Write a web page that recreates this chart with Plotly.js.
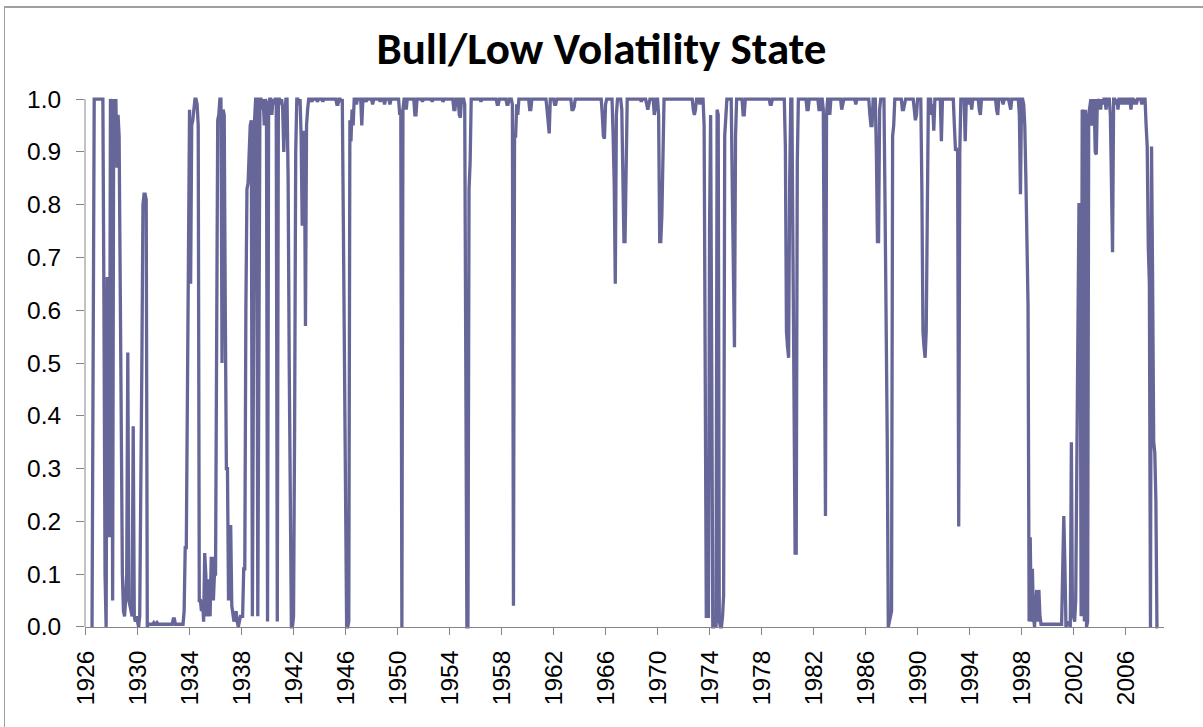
<!DOCTYPE html>
<html>
<head>
<meta charset="utf-8">
<script src="https://cdn.plot.ly/plotly-3.0.1.min.js"></script>
<style>
  html, body { margin: 0; padding: 0; background: #ffffff; overflow: hidden; }
  #wrap { position: relative; width: 1203px; height: 727px; }
  #chart { position: absolute; left: 0; top: 0; width: 1203px; height: 727px; }
  #frame { position: absolute; left: 4px; top: 6px; width: 1210px; height: 740px;
           border-left: 1px solid #a0a0a0; border-top: 2px solid #a0a0a0; pointer-events: none; }
</style>
</head>
<body>
<div id="wrap">
  <div id="chart"></div>
  <div id="frame"></div>
</div>
<script>
// Tick labels (one every 4 years, monthly categories starting Jan 1926)
const yearLabels = ['1926','1930','1934','1938','1942','1946','1950','1954','1958','1962',
                    '1966','1970','1974','1978','1982','1986','1990','1994','1998','2002','2006'];
const yLabels = ['0.0','0.1','0.2','0.3','0.4','0.5','0.6','0.7','0.8','0.9','1.0'];

// Monthly probability of the bull / low-volatility state
const prob1926to1935 = [
  null,null,null,null,null,null, 0, 0.38, 1, 1, 1, 1,
  1, 1, 1, 1, 1, 0.6, 0.1, 0, 0.66, 0.66, 0.17, 1,
  0.99, 0.05, 1, 0.98, 1, 0.87, 0.97, 0.93, 0.6, 0.3, 0.1, 0.03,
  0.02, 0.05, 0.1, 0.52, 0.05, 0.04, 0.03, 0.02, 0.38, 0.02, 0.01, 0.02,
  0.01, 0, 0.02, 0.38, 0.5, 0.8, 0.82, 0.82, 0.81, 0, 0.005, 0.005,
  0.005, 0.005, 0.005, 0.008, 0.005, 0.005, 0.008, 0.005, 0.005, 0.005, 0.005, 0.005,
  0.005, 0.005, 0.005, 0.005, 0.005, 0.005, 0.005, 0.005, 0.005, 0.015, 0.015, 0.005,
  0.005, 0.005, 0.005, 0.005, 0.005, 0.005, 0.005, 0.03, 0.15, 0.15, 0.5, 0.88,
  0.98, 0.65, 0.95, 0.96, 0.99, 1, 1, 0.99, 0.95, 0.05, 0.05, 0.03,
  0.05, 0.01, 0.14, 0.1, 0.02, 0.08, 0.09, 0.02, 0.13, 0.13, 0.05, 0.1
];
const prob1936to1945 = [
  0.1, 0.5, 0.96, 0.97, 1, 1, 0.5, 0.98, 0.97, 0.6, 0.3, 0.3,
  0.05, 0.19, 0.19, 0.04, 0.02, 0.01, 0.02, 0.03, 0.01, 0, 0.01, 0.02,
  0.02, 0.02, 0.11, 0.11, 0.6, 0.83, 0.84, 0.9, 0.95, 0.96, 0.02, 0.5,
  0.96, 1, 1, 0.02, 0.5, 1, 1, 0.98, 1, 0.95, 1, 0.99,
  0.01, 0.99, 1, 1, 0.97, 1, 0.99, 1, 1, 0.01, 1, 1,
  0.99, 1, 0.98, 0.9, 0.97, 1, 1, 0.85, 0.5, 0.2, 0, 0,
  0.02, 0.38, 0.9, 1, 1, 0.99, 1, 0.93, 0.76, 0.94, 0.93, 0.57,
  0.95, 0.98, 1, 1, 1, 0.995, 1, 1, 1, 1, 0.995, 1,
  1, 1, 1, 0.995, 1, 1, 1, 1, 1, 1, 1, 1,
  1, 1, 1, 1, 0.99, 0.99, 1, 1, 0.995, 1, 0.76, 0.51
];
const prob1946to1955 = [
  0.2, 0, 0, 0.01, 0.96, 0.92, 0.98, 0.95, 1, 1, 0.99, 1,
  1, 1, 1, 0.95, 1, 1, 1, 0.995, 1, 1, 1, 1,
  1, 0.99, 1, 1, 1, 1, 1, 1, 0.995, 1, 1, 1,
  0.99, 1, 1, 1, 1, 0.99, 1, 1, 1, 1, 1, 1,
  1, 1, 0.97, 0.98, 0, 0.98, 1, 1, 0.98, 1, 1, 1,
  1, 1, 1, 1, 0.97, 0.97, 1, 1, 1, 1, 1, 0.995,
  1, 1, 1, 1, 1, 1, 1, 1, 0.995, 1, 1, 1,
  1, 1, 1, 1, 1, 1, 0.995, 1, 1, 1, 1, 1,
  1, 1, 1, 1, 0.98, 0.98, 1, 1, 1, 0.97, 0.965, 1,
  1, 1, 0.99, 0.6, 0, 0, 0.83, 0.88, 1, 1, 1, 1
];
const prob1956to1965 = [
  1, 1, 1, 1, 1, 0.995, 1, 1, 1, 1, 1, 1,
  1, 1, 1, 1, 1, 1, 1, 1, 0.99, 0.99, 1, 1,
  1, 1, 1, 1, 1, 0.99, 0.99, 1, 1, 1, 0.99, 0.04,
  0.93, 0.93, 0.99, 0.97, 1, 1, 1, 1, 1, 1, 1, 1,
  1, 1, 0.98, 0.98, 1, 1, 1, 1, 1, 1, 1, 1,
  1, 1, 1, 1, 1, 1, 0.98, 0.95, 0.935, 1, 1, 1,
  1, 0.99, 0.99, 1, 1, 1, 1, 1, 1, 1, 1, 1,
  1, 1, 1, 1, 1, 0.98, 0.98, 0.985, 1, 1, 1, 1,
  1, 1, 1, 1, 1, 1, 1, 1, 1, 1, 1, 1,
  1, 1, 1, 1, 1, 1, 1, 1, 1, 0.97, 0.93, 0.925
];
const prob1966to1975 = [
  0.99, 1, 1, 1, 1, 1, 1, 0.93, 0.84, 0.65, 0.97, 1,
  1, 1, 1, 0.98, 0.83, 0.73, 0.73, 0.94, 1, 1, 1, 1,
  1, 1, 1, 1, 1, 1, 1, 1, 1, 0.995, 1, 1,
  1, 1, 0.99, 0.98, 0.99, 1, 1, 1, 1, 0.97, 0.99, 1,
  1, 0.97, 0.73, 0.73, 0.78, 0.92, 1, 1, 1, 1, 1, 1,
  1, 1, 1, 1, 1, 1, 1, 1, 1, 1, 1, 1,
  1, 1, 1, 1, 1, 1, 1, 1, 1, 0.98, 0.97, 0.98,
  1, 1, 1, 0.99, 1, 1, 1, 0.95, 0.57, 0.02, 0.02, 0.02,
  0.75, 0.97, 0.5, 0, 0, 0.02, 0, 0.98, 0.97, 0.01, 0, 0,
  0.02, 0.06, 0.93, 0.97, 1, 1, 1, 1, 1, 0.83, 0.6, 0.53
];
const prob1976to1985 = [
  0.93, 1, 1, 1, 1, 1, 1, 0.97, 0.97, 1, 1, 1,
  1, 1, 1, 1, 1, 1, 1, 1, 1, 1, 1, 1,
  1, 1, 1, 1, 1, 1, 1, 1, 0.99, 0.99, 1, 1,
  1, 1, 1, 1, 1, 1, 1, 1, 1, 1, 0.91, 0.56,
  0.53, 0.51, 0.85, 1, 1, 0.7, 0.3, 0.14, 0.14, 0.88, 1, 1,
  1, 1, 1, 1, 1, 1, 0.98, 0.98, 1, 1, 1, 1,
  1, 1, 1, 1, 1, 0.98, 0.98, 1, 1, 0.98, 0.63, 0.21,
  0.97, 1, 1, 0.97, 1, 1, 1, 1, 1, 1, 1, 1,
  1, 1, 0.98, 0.99, 1, 1, 1, 1, 1, 1, 1, 1,
  1, 1, 1, 0.99, 1, 1, 1, 1, 1, 1, 1, 1
];
const prob1986to1995 = [
  1, 1, 1, 1, 0.97, 0.95, 0.95, 1, 1, 1, 0.9, 0.73,
  0.73, 0.98, 1, 1, 1, 1, 0.8, 0.63, 0.36, 0, 0.01, 0.02,
  0.03, 0.93, 0.95, 1, 1, 1, 1, 1, 1, 1, 0.98, 0.98,
  0.99, 1, 1, 1, 1, 1, 1, 1, 1, 0.98, 0.96, 0.97,
  1, 1, 1, 1, 0.83, 0.56, 0.53, 0.51, 0.56, 0.9, 1, 1,
  1, 0.97, 0.99, 0.94, 1, 1, 1, 1, 1, 1, 0.92, 1,
  1, 1, 1, 1, 1, 1, 1, 1, 1, 1, 0.95, 0.905,
  0.905, 0.9, 0.19, 0.9, 1, 1, 1, 1, 0.92, 1, 1, 0.99,
  1, 1, 0.98, 1, 1, 1, 1, 1, 1, 0.98, 0.97, 1,
  1, 1, 1, 1, 1, 1, 1, 1, 1, 1, 1, 1
];
const prob1996to2008 = [
  1, 0.98, 0.97, 1, 1, 1, 1, 0.99, 1, 1, 1, 1,
  1, 0.99, 0.98, 1, 1, 1, 1, 1, 1, 1, 0.97, 0.82,
  1, 1, 0.99, 0.95, 0.85, 0.73, 0.61, 0.01, 0.17, 0.01, 0.11, 0.02,
  0, 0.04, 0.07, 0.01, 0.07, 0.02, 0.005, 0.005, 0.005, 0.005, 0.005, 0.005,
  0.005, 0.005, 0.005, 0.005, 0.005, 0.005, 0.005, 0.005, 0.005, 0.005, 0.005, 0.005,
  0.005, 0.005, 0.11, 0.21, 0.12, 0, 0.005, 0.005, 0.01, 0, 0.35, 0.02,
  0.02, 0.01, 0.05, 0.3, 0.6, 0.8, 0.8, 0.02, 0.98, 0.97, 0.01, 0.98,
  0, 0.01, 0.97, 0.99, 1, 0.95, 0.97, 1, 0.9, 0.895, 1, 0.99,
  1, 0.98, 1, 0.99, 1, 1, 0.98, 1, 1, 1, 0.97, 0.83,
  0.71, 1, 1, 0.99, 1, 0.98, 1, 1, 0.99, 1, 1, 0.99,
  1, 1, 0.99, 1, 1, 0.98, 1, 1, 0.99, 1, 0.99, 1,
  1, 1, 1, 0.99, 1, 1, 1, 0.95, 0.91, 0.72, 0.65, 0,
  0.91, 0.65, 0.35, 0.33, 0.24, 0, 0, null, null, null, null, null
];

const prob = [].concat(prob1926to1935, prob1936to1945, prob1946to1955, prob1956to1965,
                       prob1966to1975, prob1976to1985, prob1986to1995, prob1996to2008);
const monthIndex = prob.map((_, i) => i);
const xTickVals = yearLabels.map((_, k) => k * 48);
const yTickVals = yLabels.map((s) => parseFloat(s));

const tickFont = { family: '"Liberation Sans", Arial, sans-serif', size: 24.5, color: '#000000' };
const axisGray = '#868686';
const yPad = 0.004;

const trace = {
  x: monthIndex,
  y: prob,
  type: 'scatter',
  mode: 'lines',
  line: { color: '#666699', width: 3.3 },
  connectgaps: false,
  hoverinfo: 'skip',
  showlegend: false
};

const layout = {
  width: 1203,
  height: 727,
  margin: { l: 85, r: 39, t: 97, b: 98, pad: 0 },
  paper_bgcolor: '#ffffff',
  plot_bgcolor: '#ffffff',
  title: {
    text: 'Bull/Low Volatility State',
    font: { family: 'Carlito, Calibri, Lato, sans-serif', size: 45, color: '#000000', weight: 'bold' },
    xref: 'container', x: 0.5, xanchor: 'center',
    yref: 'container', y: 1 - 48 / 727, yanchor: 'middle'
  },
  xaxis: {
    range: [-0.5, prob.length - 0.5],
    anchor: 'free',
    position: yPad / (1 + 2 * yPad),
    showline: true, linecolor: axisGray, linewidth: 1,
    showgrid: false, zeroline: false,
    ticks: 'outside', ticklen: 7, tickcolor: axisGray, tickwidth: 1,
    tickmode: 'array', tickvals: xTickVals, ticktext: yearLabels,
    tickangle: -90, tickfont: tickFont, ticklabelstandoff: 6,
    fixedrange: true
  },
  yaxis: {
    range: [-yPad, 1 + yPad],
    showline: false, showgrid: false, zeroline: false,
    ticks: 'outside', ticklen: 8, tickcolor: axisGray, tickwidth: 1,
    tickmode: 'array', tickvals: yTickVals, ticktext: yLabels,
    tickfont: tickFont, ticklabelstandoff: 10,
    fixedrange: true
  },
  shapes: [{
    type: 'line', xref: 'paper', yref: 'y', x0: 0, x1: 0, y0: 0, y1: 1,
    line: { color: axisGray, width: 1 }
  }]
};

Plotly.newPlot('chart', [trace], layout, { staticPlot: true, displayModeBar: false });
</script>
</body>
</html>
